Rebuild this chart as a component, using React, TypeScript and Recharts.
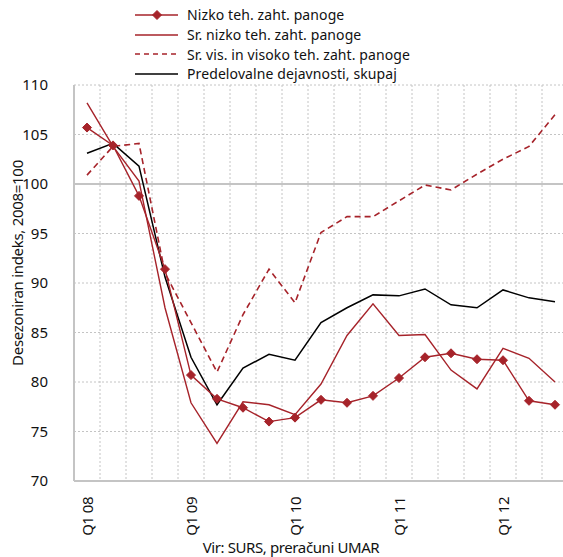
import React from "react";
import { LineChart, Line, XAxis, YAxis, CartesianGrid, ReferenceLine, Legend } from "recharts";

const quarters = [
  "Q1 08", "Q2 08", "Q3 08", "Q4 08",
  "Q1 09", "Q2 09", "Q3 09", "Q4 09",
  "Q1 10", "Q2 10", "Q3 10", "Q4 10",
  "Q1 11", "Q2 11", "Q3 11", "Q4 11",
  "Q1 12", "Q2 12", "Q3 12",
];

const nizko = [105.7, 103.9, 98.8, 91.4, 80.7, 78.3, 77.4, 76.0, 76.4, 78.2, 77.9, 78.6, 80.4, 82.5, 82.9, 82.3, 82.2, 78.1, 77.7];
const srNizko = [108.2, 103.8, 100.3, 87.5, 77.9, 73.8, 78.0, 77.7, 76.7, 79.8, 84.7, 87.9, 84.7, 84.8, 81.2, 79.3, 83.4, 82.4, 80.0];
const srVisoko = [100.9, 103.8, 104.1, 91.0, 86.0, 81.0, 86.8, 91.4, 88.0, 95.1, 96.7, 96.7, 98.3, 99.9, 99.4, 101.0, 102.5, 103.8, 107.0];
const skupaj = [103.1, 104.1, 101.8, 90.6, 82.5, 77.7, 81.4, 82.8, 82.2, 86.0, 87.5, 88.8, 88.7, 89.4, 87.8, 87.5, 89.3, 88.5, 88.1];

const yTicks = [70, 75, 80, 85, 90, 95, 100, 105, 110];

const data = quarters.map((q, i) => ({
  q,
  nizko: nizko[i],
  srNizko: srNizko[i],
  srVisoko: srVisoko[i],
  skupaj: skupaj[i],
}));

const RED = "#a6232a";
const FONT = "'Noto Sans', sans-serif";

function Diamond(props: any) {
  const { cx, cy } = props;
  if (cx == null || cy == null) return null;
  const r = 4.5;
  return <path d={`M${cx},${cy - r}L${cx + r},${cy}L${cx},${cy + r}L${cx - r},${cy}Z`} fill={RED} stroke={RED} />;
}

function QuarterTick(props: any) {
  const { x, payload } = props;
  if (!String(payload.value).startsWith("Q1")) return null;
  const ty = 497;
  return (
    <text
      x={x}
      y={ty}
      transform={`rotate(-90, ${x}, ${ty})`}
      textAnchor="end"
      dominantBaseline="central"
      fontSize={15}
      fontFamily={FONT}
      fill="#111"
      letterSpacing={-0.5}
    >
      {payload.value}
    </text>
  );
}

const legendItems = [
  { label: "Nizko teh. zaht. panoge", color: RED, dash: undefined, marker: true },
  { label: "Sr. nizko teh. zaht. panoge", color: RED, dash: undefined, marker: false },
  { label: "Sr. vis. in visoko teh. zaht. panoge", color: RED, dash: "5 4", marker: false },
  { label: "Predelovalne dejavnosti, skupaj", color: "#000", dash: undefined, marker: false },
];

function LegendBox() {
  return (
    <div style={{ fontFamily: FONT, fontSize: 14, letterSpacing: 0.1, color: "#111" }}>
      {legendItems.map((it) => (
        <div key={it.label} style={{ display: "flex", alignItems: "center", height: 19.7 }}>
          <svg width={52} height={12}>
            <line x1={0} y1={6} x2={43} y2={6} stroke={it.color} strokeWidth={1.5} strokeDasharray={it.dash} />
            {it.marker && <Diamond cx={22} cy={6} />}
          </svg>
          <div style={{ height: 19, lineHeight: "19px", whiteSpace: "nowrap" }}>{it.label}</div>
        </div>
      ))}
    </div>
  );
}

export default function App() {
  return (
    <div style={{ position: "fixed", left: 0, top: 0, width: 563, height: 557, overflow: "hidden", background: "#fff" }}>
      <LineChart
        width={575}
        height={557}
        data={data}
        margin={{ top: 85, right: 7, bottom: 0, left: 0 }}
      >
        <CartesianGrid
          stroke="#c4c4c4"
          strokeDasharray="2 2"
          verticalCoordinatesGenerator={({ offset }: any) =>
            quarters.map((_, i) => offset.left + ((i + 1) * offset.width) / quarters.length)
          }
        />
        <ReferenceLine y={100} stroke="#c4c4c4" strokeWidth={2} />
        <XAxis
          dataKey="q"
          interval={0}
          padding={{ left: 13, right: 13 }}
          tick={<QuarterTick />}
          tickLine={false}
          axisLine={{ stroke: "#c4c4c4", strokeWidth: 2 }}
          height={76}
        />
        <YAxis
          domain={[70, 110]}
          ticks={yTicks}
          width={74}
          tickLine={false}
          axisLine={{ stroke: "#c4c4c4", strokeWidth: 2 }}
          tickMargin={20}
          tick={{ fontSize: 15, fontFamily: FONT, fill: "#111" }}
          label={{
            value: "Desezoniran indeks, 2008=100",
            angle: -90,
            position: "insideLeft",
            offset: 18,
            dy: -20,
            style: { textAnchor: "middle", fontSize: 15, fontFamily: FONT, fill: "#111", letterSpacing: -0.3 },
          }}
        />
        <Legend
          layout="vertical"
          align="center"
          verticalAlign="middle"
          content={<LegendBox />}
          wrapperStyle={{ top: 5, left: 135, width: "auto", height: "auto" }}
        />
        <Line dataKey="srVisoko" stroke={RED} strokeWidth={1.6} strokeDasharray="6 4" dot={false} isAnimationActive={false} />
        <Line dataKey="srNizko" stroke={RED} strokeWidth={1.4} dot={false} isAnimationActive={false} />
        <Line dataKey="skupaj" stroke="#000" strokeWidth={1.5} dot={false} isAnimationActive={false} />
        <Line dataKey="nizko" stroke={RED} strokeWidth={1.4} dot={<Diamond />} isAnimationActive={false} />
      </LineChart>
      <div
        style={{
          position: "absolute",
          left: 0,
          width: 582,
          top: 537,
          textAlign: "center",
          fontFamily: FONT,
          fontSize: 15,
          letterSpacing: -0.4,
          color: "#111",
        }}
      >
        Vir: SURS, preračuni UMAR
      </div>
    </div>
  );
}
